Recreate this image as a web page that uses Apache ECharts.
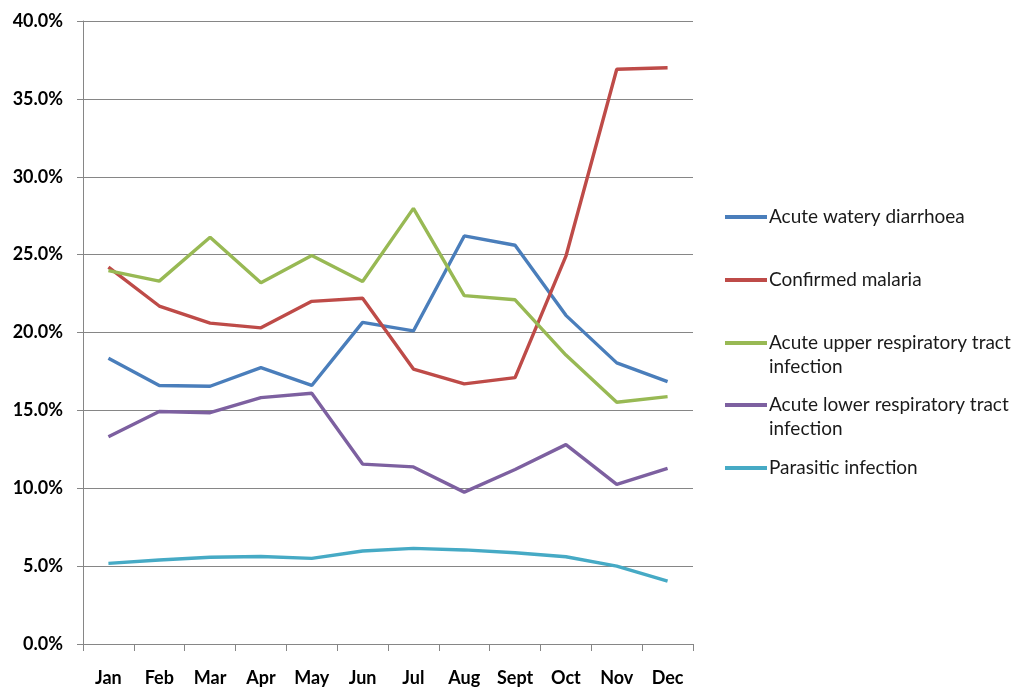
<!DOCTYPE html>
<html>
<head>
<meta charset="utf-8">
<script src="https://cdn.jsdelivr.net/npm/echarts@6/dist/echarts.min.js"></script>
<style>
html,body{margin:0;padding:0;background:#fff;}
#chart{width:1024px;height:690px;}
</style>
</head>
<body>
<div id="chart"></div>
<script>
var months = ['Jan','Feb','Mar','Apr','May','Jun','Jul','Aug','Sept','Oct','Nov','Dec'];
var seriesNames = ['Acute watery diarrhoea','Confirmed malaria','Acute upper respiratory tract infection','Acute lower respiratory tract infection','Parasitic infection'];
var diarrhoea = [18.35,16.6,16.55,17.75,16.6,20.65,20.1,26.2,25.6,21.1,18.05,16.85];
var malaria   = [24.2,21.7,20.6,20.3,22.0,22.2,17.65,16.7,17.1,24.9,36.9,37.0];
var upperResp = [23.97,23.3,26.12,23.2,24.95,23.27,27.97,22.37,22.1,18.55,15.52,15.88];
var lowerResp = [13.3,14.93,14.85,15.82,16.1,11.55,11.37,9.75,11.2,12.8,10.25,11.28];
var parasitic = [5.18,5.39,5.57,5.62,5.5,5.97,6.14,6.04,5.86,5.6,5.0,4.04];
var yTicks = {min:0, max:40, interval:5};

var colors = ['#4A7EBB','#BE4B48','#98B954','#7D60A0','#46AAC5'];
var dataSets = [diarrhoea, malaria, upperResp, lowerResp, parasitic];
var legendLabels = ['Acute watery diarrhoea','Confirmed malaria','\nAcute upper respiratory tract\ninfection','\nAcute lower respiratory tract\ninfection','Parasitic infection'];
var markerY = [217,280,343,405,468];

var font = 'Lato, "Open Sans", sans-serif';
var legends = seriesNames.map(function(name, i){
  var multi = legendLabels[i].indexOf('\n') >= 0;
  var h = multi ? 72 : 24;
  return {
    orient:'vertical',
    left:725,
    top: markerY[i] - h/2,
    padding:0,
    itemWidth:42,
    itemHeight:4,
    data:[{name:name, icon:'rect'}],
    formatter: (function(lbl){return function(){return lbl;};})(legendLabels[i]),
    textStyle:{fontFamily:font, fontSize:19, color:'#1a1a1a', lineHeight:24, padding:[0,0,0,-3]},
    selectedMode:false
  };
});

var series = seriesNames.map(function(name, i){
  return {
    name:name,
    type:'line',
    data:dataSets[i],
    symbol:'none',
    smooth:false,
    lineStyle:{color:colors[i], width:3.4},
    itemStyle:{color:colors[i]},
    animation:false
  };
});

var chart = echarts.init(document.getElementById('chart'));
chart.setOption({
  backgroundColor:'#fff',
  animation:false,
  grid:{left:83, right:331, top:21, bottom:46, containLabel:false},
  legend: legends,
  xAxis:{
    type:'category',
    data:months,
    boundaryGap:true,
    axisLine:{lineStyle:{color:'#868686', width:1}},
    axisTick:{show:true, length:7, inside:false, interval:0, lineStyle:{color:'#868686'}},
    axisLabel:{fontFamily:font, fontSize:18, fontWeight:'bold', color:'#000', margin:25, interval:0},
    splitLine:{show:false}
  },
  yAxis:{
    type:'value',
    min:yTicks.min, max:yTicks.max, interval:yTicks.interval,
    axisLine:{show:true, lineStyle:{color:'#868686', width:1}},
    axisTick:{show:true, length:6, lineStyle:{color:'#868686'}},
    axisLabel:{fontFamily:font, fontSize:18, fontWeight:'bold', color:'#000', margin:20,
      formatter:function(v){return v.toFixed(1)+'%';}},
    splitLine:{show:true, lineStyle:{color:'#868686', width:1}}
  },
  series:series
});
</script>
</body>
</html>
